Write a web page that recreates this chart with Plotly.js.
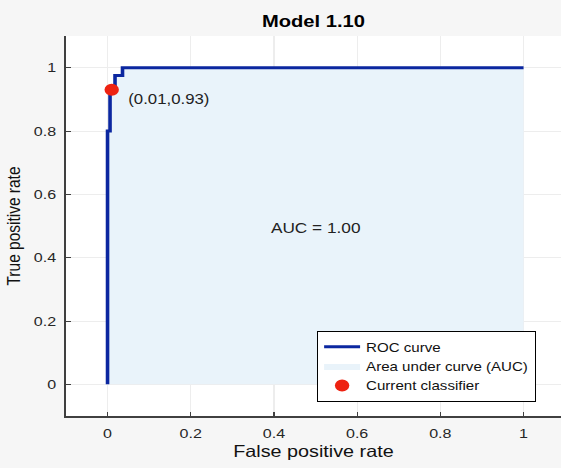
<!DOCTYPE html>
<html><head><meta charset="utf-8">
<script src="https://cdn.plot.ly/plotly-3.0.1.min.js"></script>
<style>
html,body{margin:0;padding:0;background:#f6f6f6;overflow:hidden;}
#wrap{width:561px;height:468px;overflow:hidden;}
#chart{width:468px;height:468px;transform:scaleX(1.19872);transform-origin:0 0;}
</style></head>
<body><div id="wrap"><div id="chart"></div></div>
<script>
// ROC curve points
const fpr = [0, 0, 0.006, 0.006, 0.018, 0.018, 0.036, 0.036, 1];
const tpr = [0, 0.8, 0.8, 0.93, 0.93, 0.975, 0.975, 1, 1];
// current classifier operating point
const classifierX = [0.01];
const classifierY = [0.93];
const classifierLabel = "(0.01,0.93)";
const aucLabel = "AUC = 1.00";
// ticks
const tickVals = [0, 0.2, 0.4, 0.6, 0.8, 1];
const tickText = ["0", "0.2", "0.4", "0.6", "0.8", "1"];
const seriesNames = ["ROC curve", "Area under curve (AUC)", "Current classifier"];

const FONT = "Liberation Sans, Arial, sans-serif";

const traces = [
  {x: fpr, y: tpr, type: "scatter", mode: "lines", name: seriesNames[1],
   fill: "tozeroy", fillcolor: "#e9f3fa", line: {width: 0, color: "#e9f3fa"},
   legendrank: 2, hoverinfo: "skip"},
  {x: fpr, y: tpr, type: "scatter", mode: "lines", name: seriesNames[0],
   line: {color: "#0b27a0", width: 3}, legendrank: 1},
  {x: classifierX, y: classifierY, type: "scatter", mode: "markers", name: seriesNames[2],
   marker: {color: "#ee2211", size: 12}, legendrank: 3}
];

const axisCommon = {
  showline: true, linecolor: "#404040", linewidth: 1.5, mirror: false,
  showgrid: true, gridcolor: "#ededed", gridwidth: 1, zeroline: false,
  ticks: "inside", ticklen: 4, tickcolor: "#404040",
  tickvals: tickVals, ticktext: tickText,
  tickfont: {family: FONT, size: 13.4, color: "#262626"}
};

const layout = {
  width: 468, height: 468,
  paper_bgcolor: "#f6f6f6", plot_bgcolor: "#ffffff",
  margin: {l: 55, r: 0, t: 36, b: 52, pad: 0},
  title: {text: "<b>Model 1.10</b>", font: {family: FONT, size: 16.8, color: "#000"},
          x: 0.5, xref: "paper", y: 1 - 21/468, yref: "container", yanchor: "middle"},
  xaxis: Object.assign({}, axisCommon, {range: [-0.1, 1.09], ticklabelstandoff: 4,
    title: {text: "False positive rate", font: {family: FONT, size: 16.5, color: "#111"}, standoff: 6}}),
  yaxis: Object.assign({}, axisCommon, {range: [-0.1, 1.1], ticklabelstandoff: 4,
    title: {text: "True positive rate", font: {family: FONT, size: 15.5, color: "#111"}, standoff: 7}}),
  showlegend: true,
  legend: {x: 0.507, y: 0.037, xanchor: "left", yanchor: "bottom",
    bgcolor: "#ffffff", bordercolor: "#000000", borderwidth: 1,
    font: {family: FONT, size: 12.6, color: "#111"}, traceorder: "normal", tracegroupgap: 0,
    entrywidth: 160},
  annotations: [
    {x: 0.045, y: 0.9, xref: "x", yref: "y", text: classifierLabel, showarrow: false,
     xanchor: "left", yanchor: "middle", font: {family: FONT, size: 14, color: "#222"}},
    {x: 0.5, y: 0.494, xref: "x", yref: "y", text: aucLabel, showarrow: false,
     xanchor: "center", yanchor: "middle", font: {family: FONT, size: 14.4, color: "#222"}}
  ]
};

Plotly.newPlot("chart", traces, layout, {displayModeBar: false, staticPlot: true});
</script>
</body></html>
